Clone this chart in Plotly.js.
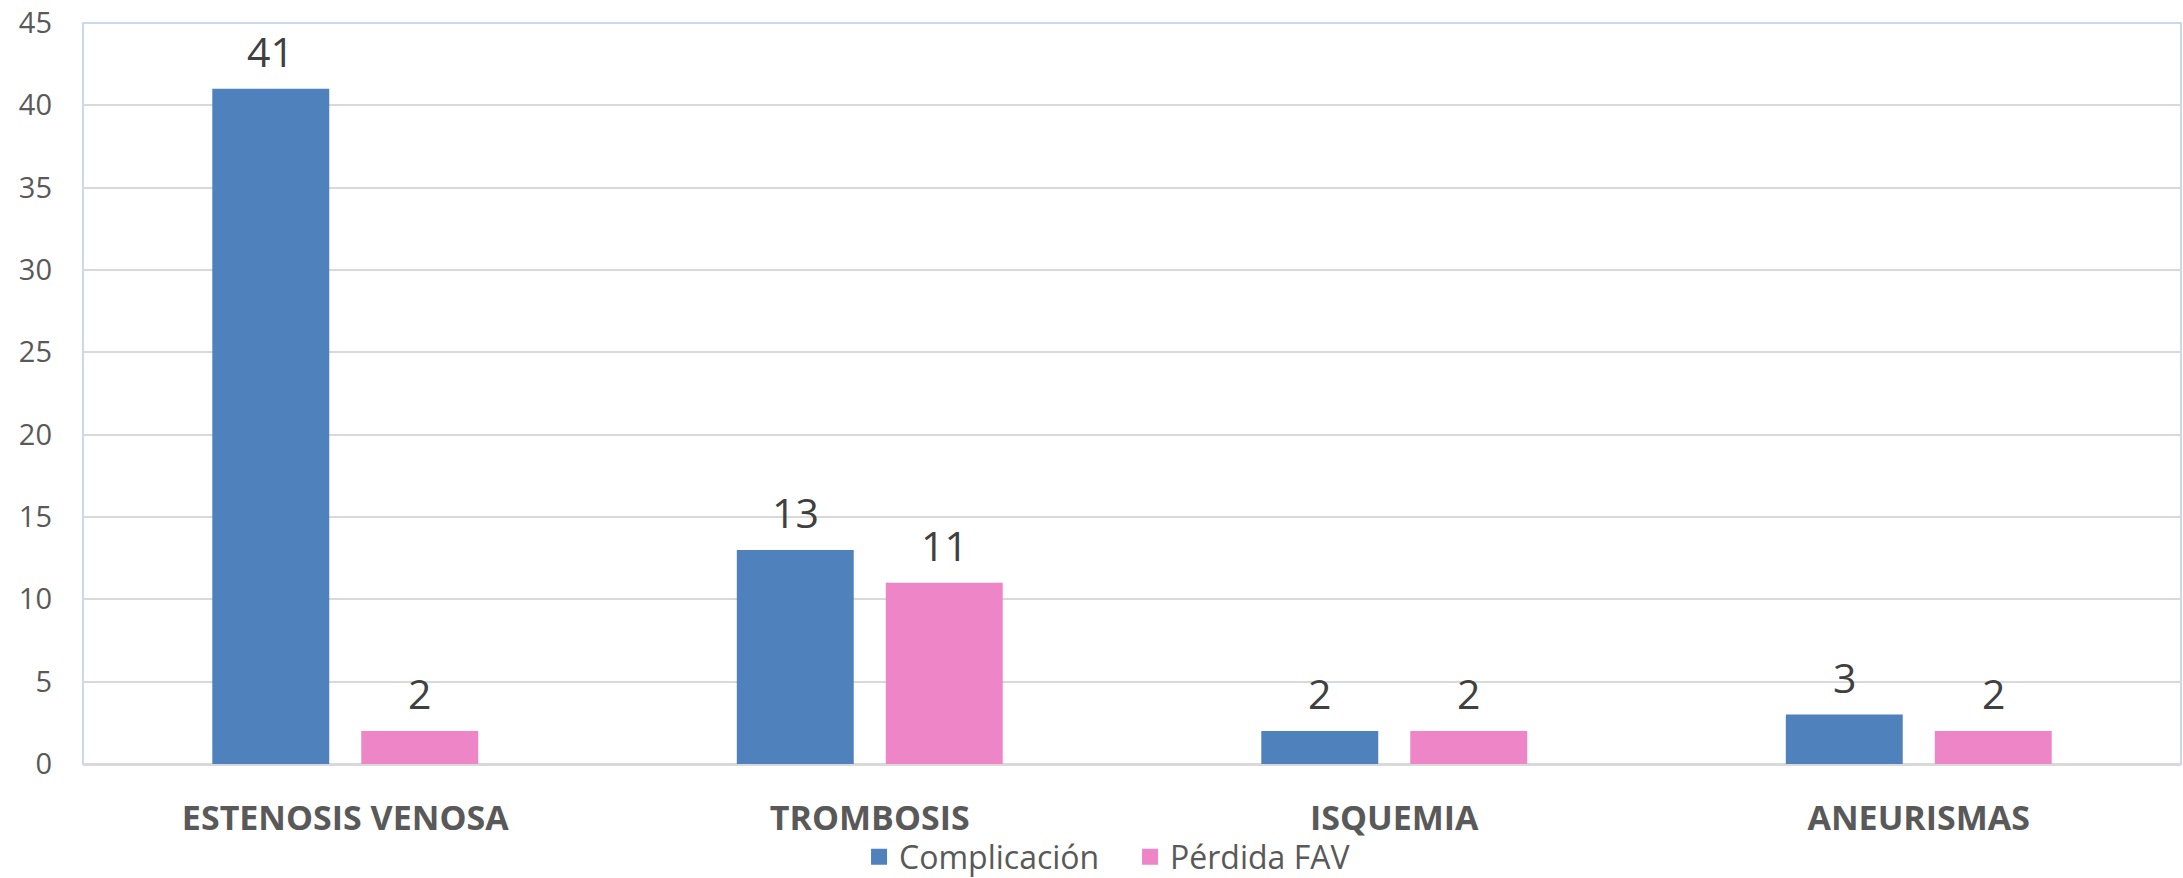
<!DOCTYPE html>
<html><head><meta charset="utf-8">
<script src="https://cdn.plot.ly/plotly-3.0.1.min.js"></script>
<style>html,body{margin:0;padding:0;background:#fff;}#chart{width:2183px;height:878px;}</style>
</head><body><div id="chart"></div>
<script>
const categories = ["ESTENOSIS VENOSA", "TROMBOSIS", "ISQUEMIA", "ANEURISMAS"];
const complicacion = [41, 13, 2, 3];
const perdidaFAV = [2, 11, 2, 2];
const seriesNames = ["Complicación", "Pérdida FAV"];
const colors = ["#4F81BD", "#EE85C6"];
const FONT = "Open Sans, Noto Sans, sans-serif";

const traces = [
  {type:"bar", name:seriesNames[0], x:categories, y:complicacion, marker:{color:colors[0]}, hoverinfo:"none", showlegend:false},
  {type:"bar", name:seriesNames[1], x:categories, y:perdidaFAV, marker:{color:colors[1]}, hoverinfo:"none", showlegend:false},
  {type:"scatter", mode:"markers", name:seriesNames[0], x:[null], y:[null], marker:{symbol:"square", size:16, color:colors[0]}, showlegend:true},
  {type:"scatter", mode:"markers", name:seriesNames[1], x:[null], y:[null], marker:{symbol:"square", size:16, color:colors[1]}, showlegend:true}
];

const annotations = [];
const seriesVals = [complicacion, perdidaFAV];
seriesVals.forEach((vals, si) => {
  vals.forEach((v, i) => {
    annotations.push({x:categories[i], y:v, xref:"x", yref:"y", text:String(v), showarrow:false,
      xshift: si === 0 ? -74.5 : 74.5, yanchor:"bottom", yshift:8,
      font:{family:FONT, size:41, color:"#404040"}});
  });
});

const layout = {
  width:2183, height:878,
  margin:{l:83, r:2, t:23, b:114, autoexpand:false},
  paper_bgcolor:"#fff", plot_bgcolor:"#fff",
  barmode:"group", bargap:0.432, bargroupgap:0.215,
  font:{family:FONT, color:"#595959"},
  showlegend:true,
  legend:{orientation:"h", x:0.3699, xanchor:"left", y:-0.1625, yanchor:"bottom",
    entrywidth:226, entrywidthmode:"pixels", bgcolor:"rgba(0,0,0,0)",
    font:{family:FONT, size:32, color:"#595959"}, itemwidth:30, traceorder:"normal"},
  xaxis:{tickfont:{family:FONT, size:34, color:"#595959", weight:"bold"}, showgrid:false, ticks:"",
    ticklabelstandoff:31, showline:false, fixedrange:true, automargin:false},
  yaxis:{range:[0,45], dtick:5, tick0:0, showgrid:true, gridcolor:"#D9D9D9", gridwidth:2,
    zeroline:true, zerolinecolor:"#D9D9D9", zerolinewidth:3, automargin:false,
    tickfont:{family:FONT, size:29, color:"#595959"}, ticks:"", ticklabelstandoff:30, fixedrange:true},
  shapes:[{type:"rect", xref:"paper", yref:"paper", x0:0, x1:1, y0:0, y1:1, layer:"below",
    line:{color:"#C9D8EC", width:2}}],
  annotations:annotations
};
Plotly.newPlot("chart", traces, layout, {displayModeBar:false, staticPlot:true});
</script></body></html>
